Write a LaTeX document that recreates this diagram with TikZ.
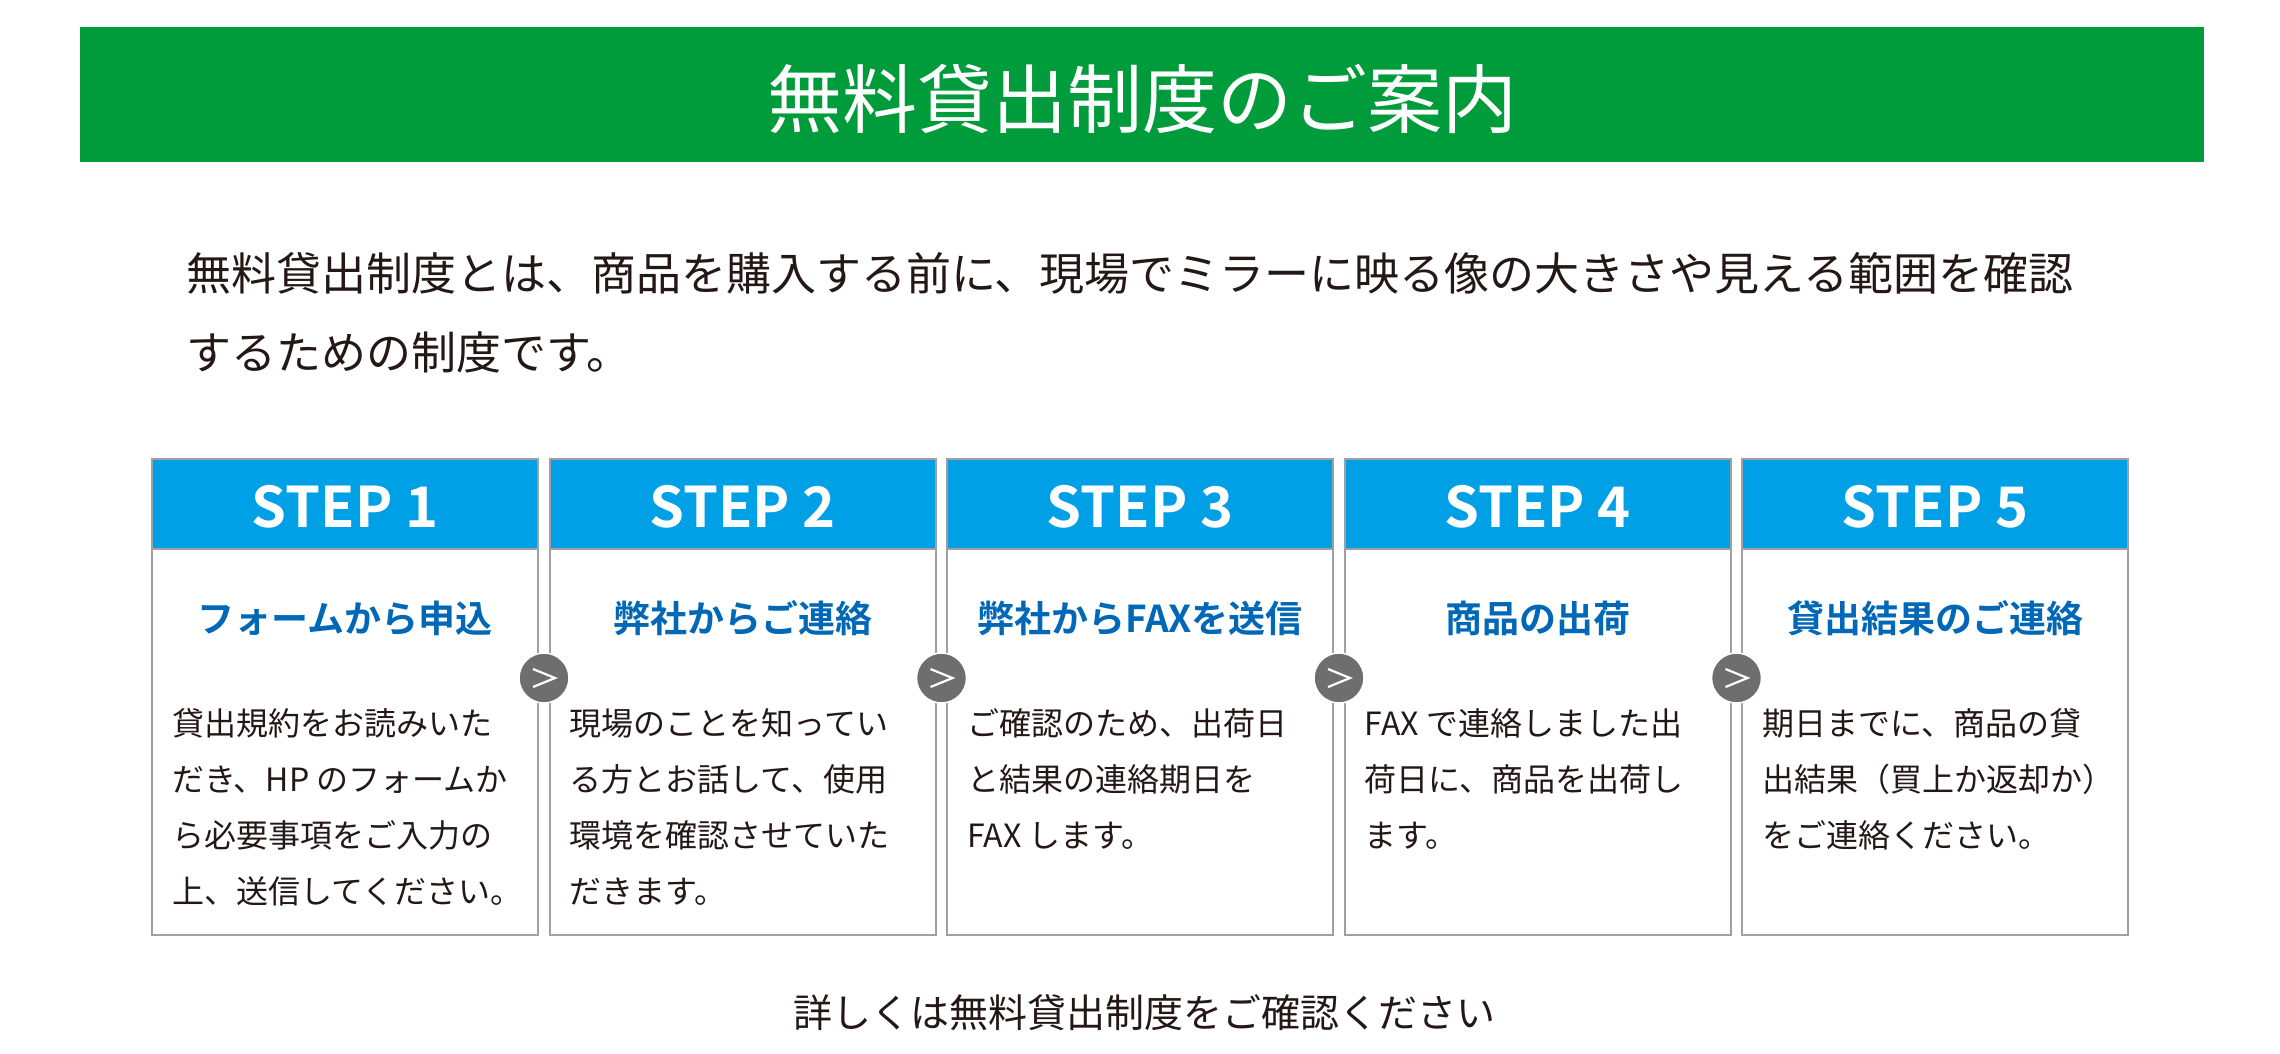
\documentclass[tikz,border=0pt]{standalone}
\usepackage{fontspec}
\setmainfont{Noto Sans CJK JP}
\newfontfamily\jpb{Noto Sans CJK JP Bold}
\definecolor{bgreen}{HTML}{009B3A}
\definecolor{hblue}{HTML}{00A0E6}
\definecolor{sblue}{HTML}{0068B7}
\definecolor{bgray}{HTML}{A0A0A0}
\definecolor{cgray}{HTML}{6E6E6E}
\definecolor{txt}{HTML}{231815}
\tikzset{
  x=1pt,y=-1pt,
  hdr/.style={fill=hblue,draw=bgray,line width=2pt},
  bodybox/.style={draw=bgray,line width=2pt,fill=white},
  hdrtxt/.style={text=white,font=\jpb\fontsize{56}{60}\selectfont,inner sep=0},
  subtxt/.style={text=sblue,font=\jpb\fontsize{37}{40}\selectfont,inner sep=0},
  bodytxt/.style={text=txt,font=\fontsize{32}{56}\selectfont,align=left,anchor=base west,inner sep=0},
  nextc/.style={circle,fill=cgray,draw=white,line width=1.5pt,minimum size=50pt,inner sep=0},
}
\begin{document}
\begin{tikzpicture}
\useasboundingbox (0,0) rectangle (2280,1053);
\fill[white] (0,0) rectangle (2280,1053);
\node[fill=bgreen,minimum width=2124pt,minimum height=135pt,inner sep=0] (banner) at (1142,94) {};
\node[text=white,font=\fontsize{75}{80}\selectfont,inner sep=0] (title) at (1142,99) {無料貸出制度のご案内};
\node[text=txt,font=\fontsize{45}{79}\selectfont,align=left,anchor=base west,inner sep=0] (intro) at (186,369) {無料貸出制度とは、商品を購入する前に、現場でミラーに映る像の大きさや見える範囲を確認\\するための制度です。};
\foreach \i/\n/\h/\s/\b in {
 1/4/STEP 1/フォームから申込/{貸出規約をお読みいた\\だき、HP のフォームか\\ら必要事項をご入力の\\上、送信してください。},
 2/4/STEP 2/弊社からご連絡/{現場のことを知ってい\\る方とお話して、使用\\環境を確認させていた\\だきます。},
 3/3/STEP 3/弊社からFAXを送信/{ご確認のため、出荷日\\と結果の連絡期日を\\FAX します。},
 4/3/STEP 4/商品の出荷/{FAX で連絡しました出\\荷日に、商品を出荷し\\ます。},
 5/3/STEP 5/貸出結果のご連絡/{期日までに、商品の貸\\出結果（買上か返却か）\\をご連絡ください。}}{
  \pgfmathsetmacro{\xl}{152+(\i-1)*397.5}
  \pgfmathsetmacro{\xc}{\xl+193}
  \pgfmathsetmacro{\by}{735+(\n-1)*56}
  \draw[bodybox] (\xl,549) rectangle ++(386,386);
  \draw[hdr] (\xl,459) rectangle ++(386,90);
  \node[hdrtxt] (h\i) at (\xc,507) {\h};
  \node[subtxt] (s\i) at (\xc,618) {\s};
  \node[bodytxt] (b\i) at (\xl+20,\by) {\b};
}
\foreach \i in {1,2,3,4}{
  \pgfmathsetmacro{\cx}{544+(\i-1)*397.5}
  \node[nextc] (c\i) at (\cx,678) {};
  \draw[white,line width=2.2pt] ([xshift=-11pt,yshift=9pt]c\i.center) -- ([xshift=11pt]c\i.center) -- ([xshift=-11pt,yshift=-9pt]c\i.center);
}
\node[text=txt,font=\fontsize{39}{40}\selectfont,inner sep=0] (foot) at (1144,1013) {詳しくは無料貸出制度をご確認ください};
\end{tikzpicture}
\end{document}
